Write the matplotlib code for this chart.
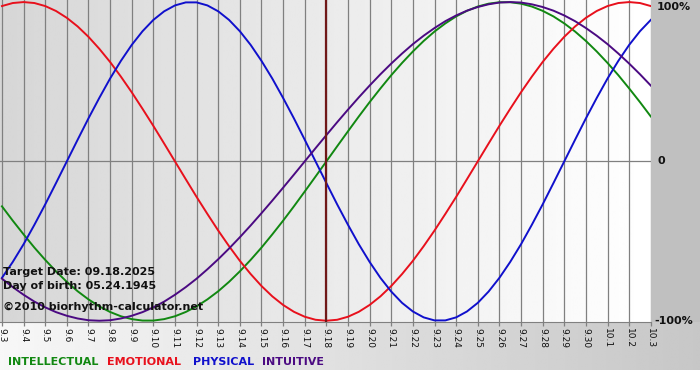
"""Biorhythm chart, 09.03 - 10.03 2025, birth 05.24.1945 (target 09.18).

Four cycles read off the reference at half-day steps, -1..+1.
"""
import numpy as np
import matplotlib
matplotlib.use("Agg")
import matplotlib.pyplot as plt

DAYS = ["9.3", "9.4", "9.5", "9.6", "9.7", "9.8", "9.9", "9.10", "9.11",
        "9.12", "9.13", "9.14", "9.15", "9.16", "9.17", "9.18", "9.19",
        "9.20", "9.21", "9.22", "9.23", "9.24", "9.25", "9.26", "9.27",
        "9.28", "9.29", "9.30", "10.1", "10.2", "10.3"]
TARGET = "9.18"

# one value every half day, 9.3 00h -> 10.3 00h
PHYSICAL = [-0.731, -0.631, -0.520, -0.398, -0.270, -0.136, 0.0, 0.136, 0.270, 0.398,
            0.520, 0.631, 0.731, 0.817, 0.888, 0.942, 0.979, 0.998, 0.998, 0.979,
            0.942, 0.888, 0.817, 0.731, 0.631, 0.520, 0.398, 0.270, 0.136, 0.0,
            -0.136, -0.270, -0.398, -0.520, -0.631, -0.731, -0.817, -0.888, -0.942, -0.979,
            -0.998, -0.998, -0.979, -0.942, -0.888, -0.817, -0.731, -0.631, -0.520, -0.398,
            -0.270, -0.136, 0.0, 0.136, 0.270, 0.398, 0.520, 0.631, 0.731, 0.817,
            0.888]
EMOTIONAL = [0.975, 0.994, 1.000, 0.994, 0.975, 0.944, 0.901, 0.847, 0.782, 0.707,
             0.624, 0.532, 0.434, 0.330, 0.223, 0.112, 0.0, -0.112, -0.223, -0.330,
             -0.434, -0.532, -0.624, -0.707, -0.782, -0.847, -0.901, -0.944, -0.975, -0.994,
             -1.000, -0.994, -0.975, -0.944, -0.901, -0.847, -0.782, -0.707, -0.624, -0.532,
             -0.434, -0.330, -0.223, -0.112, 0.0, 0.112, 0.223, 0.330, 0.434, 0.532,
             0.624, 0.707, 0.782, 0.847, 0.901, 0.944, 0.975, 0.994, 1.000, 0.994,
             0.975]
INTELLECTUAL = [-0.282, -0.372, -0.458, -0.541, -0.618, -0.690, -0.756, -0.815, -0.866, -0.910,
                -0.945, -0.972, -0.990, -0.999, -0.999, -0.990, -0.972, -0.945, -0.910, -0.866,
                -0.815, -0.756, -0.690, -0.618, -0.541, -0.458, -0.372, -0.282, -0.189, -0.095,
                0.0, 0.095, 0.189, 0.282, 0.372, 0.458, 0.541, 0.618, 0.690, 0.756,
                0.815, 0.866, 0.910, 0.945, 0.972, 0.990, 0.999, 0.999, 0.990, 0.972,
                0.945, 0.910, 0.866, 0.815, 0.756, 0.690, 0.618, 0.541, 0.458, 0.372,
                0.282]
INTUITIVE = [-0.736, -0.789, -0.837, -0.880, -0.916, -0.946, -0.969, -0.986, -0.997, -1.000,
             -0.997, -0.986, -0.969, -0.946, -0.916, -0.880, -0.837, -0.789, -0.736, -0.677,
             -0.614, -0.547, -0.476, -0.402, -0.325, -0.246, -0.165, -0.083, 0.0, 0.083,
             0.165, 0.246, 0.325, 0.402, 0.476, 0.547, 0.614, 0.677, 0.736, 0.789,
             0.837, 0.880, 0.916, 0.946, 0.969, 0.986, 0.997, 1.000, 0.997, 0.986,
             0.969, 0.946, 0.916, 0.880, 0.837, 0.789, 0.736, 0.677, 0.614, 0.547,
             0.476]

SERIES = [  # draw order: back to front
    ("INTELLECTUAL", INTELLECTUAL, "#118811"),
    ("EMOTIONAL",    EMOTIONAL,    "#e8101c"),
    ("PHYSICAL",     PHYSICAL,     "#1010cc"),
    ("INTUITIVE",    INTUITIVE,    "#4b0a82"),
]

W, H = 700, 380
PLOT_W, PLOT_H = 651, 322


def gradient(ax, c0, c1):
    g = np.linspace(c0, c1, 256)[None, :]
    ax.imshow(g, cmap="gray", vmin=0, vmax=1, aspect="auto",
              extent=(0, 1, 0, 1), transform=ax.transAxes, zorder=0,
              interpolation="bilinear")


def main():
    fig = plt.figure(figsize=(W / 100, H / 100), dpi=100)
    fig.patch.set_facecolor("white")

    # grey right margin and bottom band behind labels/legend
    side = fig.add_axes([PLOT_W / W, 1 - PLOT_H / H, 1 - PLOT_W / W, PLOT_H / H])
    side.set_facecolor("#c0c0c0"); side.set_xticks([]); side.set_yticks([])
    for s in side.spines.values():
        s.set_visible(False)
    band = fig.add_axes([0, 1 - 370 / H, 1, (370 - PLOT_H) / H])
    band.set_axis_off()
    gradient(band, 0.97, 0.78)

    ax = fig.add_axes([0, 1 - PLOT_H / H, PLOT_W / W, PLOT_H / H])
    x = np.arange(len(DAYS))
    xh = np.arange(len(PHYSICAL)) * 0.5
    gradient(ax, 0.84, 1.0)
    ax.set_xlim(-0.09, len(DAYS) - 1 + 0.01)
    ax.set_ylim(-1.008, 1.013)

    for xi in x:
        ax.axvline(xi, color="#808080", lw=0.9, zorder=1)
    ax.axhline(0, color="#808080", lw=0.9, zorder=1)

    for name, vals, col in SERIES:
        ax.plot(xh, vals, color=col, lw=1.4, zorder=3, solid_joinstyle="round")
    ax.axvline(DAYS.index(TARGET), color="#701818", lw=1.6, zorder=4)

    ax.set_xticks(x)
    ax.set_xticklabels(DAYS, rotation=-90, fontsize=6.5, color="#111111")
    ax.tick_params(axis="x", length=3, width=0.9, color="#808080", pad=1)
    ax.set_yticks([])
    for k in ("left", "top", "right"):
        ax.spines[k].set_visible(False)
    ax.spines["bottom"].set_color("#808080")

    bold = dict(fontsize=8, fontweight="bold", color="#111111")
    fig.text(3 / W, 1 - 272 / H, "Target Date: 09.18.2025", va="center", **bold)
    fig.text(3 / W, 1 - 286 / H, "Day of birth: 05.24.1945", va="center", **bold)
    fig.text(3 / W, 1 - 307 / H, "\u00a92010 biorhythm-calculator.net",
             va="center", **bold)

    fig.text(657 / W, 1 - 7 / H, "100%", va="center", **bold)
    fig.text(658 / W, 1 - 161 / H, "0", va="center", **bold)
    fig.text(654 / W, 1 - 321 / H, "-100%", va="center", **bold)

    xpos = [8, 107, 193, 262]
    for (name, _, col), px in zip(SERIES, xpos):
        fig.text(px / W, 1 - 362 / H, name, va="center", fontsize=8,
                 fontweight="bold", color=col)

    fig.savefig("out.png", dpi=100)
    plt.close(fig)


if __name__ == "__main__":
    main()
